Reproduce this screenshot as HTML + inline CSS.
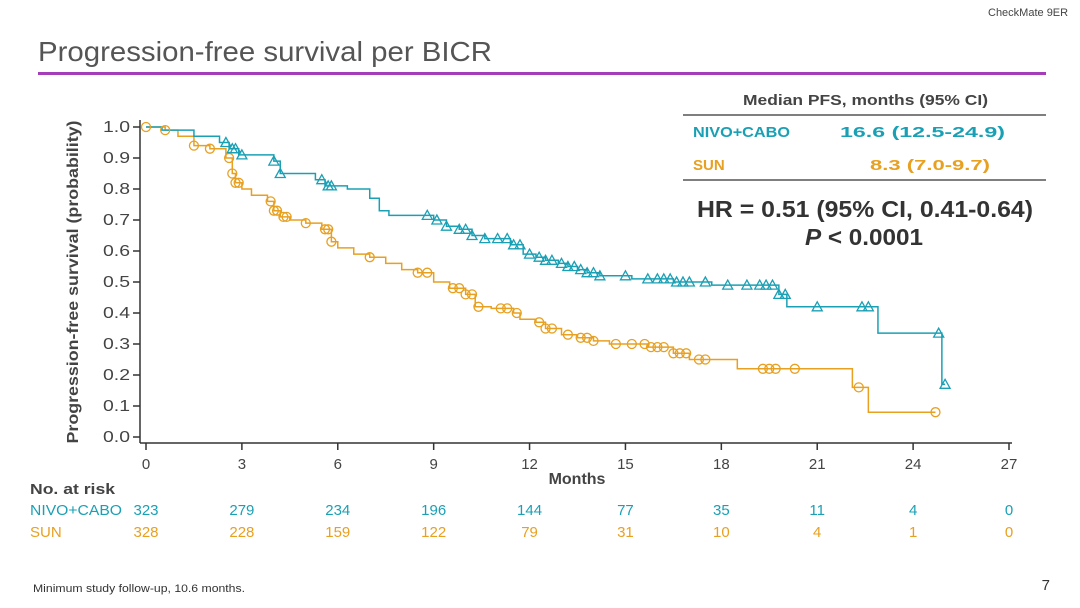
<!DOCTYPE html>
<html><head><meta charset="utf-8">
<style>
body{margin:0;width:1080px;height:608px;background:#fff;overflow:hidden;font-family:"Liberation Sans",sans-serif;}
svg{display:block}
</style></head>
<body>
<svg id="c" width="1080" height="608">
<text x="988" y="16" font-size="11" fill="#444">CheckMate 9ER</text>
<text x="38" y="61" font-size="28" fill="#555" textLength="454" lengthAdjust="spacingAndGlyphs">Progression-free survival per BICR</text>
<rect x="38" y="72" width="1008" height="3" fill="#a63db8"/>
<g>
<text x="743" y="105" font-size="15" font-weight="bold" fill="#444" textLength="245" lengthAdjust="spacingAndGlyphs">Median PFS, months (95% CI)</text>
<line x1="683" y1="115" x2="1046" y2="115" stroke="#555" stroke-width="1.5"/>
<text x="693" y="137" font-size="15" font-weight="bold" fill="#1aa0b5" textLength="97" lengthAdjust="spacingAndGlyphs">NIVO+CABO</text>
<text x="840" y="137" font-size="15" font-weight="bold" fill="#1aa0b5" textLength="165" lengthAdjust="spacingAndGlyphs">16.6 (12.5-24.9)</text>
<text x="693" y="170" font-size="15" font-weight="bold" fill="#e8a021">SUN</text>
<text x="870" y="170" font-size="15" font-weight="bold" fill="#e8a021" textLength="120" lengthAdjust="spacingAndGlyphs">8.3 (7.0-9.7)</text>
<line x1="683" y1="180" x2="1046" y2="180" stroke="#555" stroke-width="1.5"/>
</g>
<text x="697" y="217" font-size="23" font-weight="bold" fill="#333" textLength="336" lengthAdjust="spacingAndGlyphs">HR = 0.51 (95% CI, 0.41-0.64)</text>
<text x="805" y="245" font-size="23" font-weight="bold" fill="#333" textLength="118" lengthAdjust="spacingAndGlyphs"><tspan font-style="italic">P</tspan> &lt; 0.0001</text>
<text transform="translate(78,282) rotate(-90)" font-size="16" font-weight="bold" fill="#444" text-anchor="middle" textLength="323" lengthAdjust="spacingAndGlyphs">Progression-free survival (probability)</text>
<text x="577" y="484" font-size="16" font-weight="bold" fill="#444" text-anchor="middle">Months</text>
<text x="30" y="494" font-size="15" font-weight="bold" fill="#444" textLength="85" lengthAdjust="spacingAndGlyphs">No. at risk</text>
<text x="30" y="515" font-size="15" fill="#1aa0b5" textLength="92" lengthAdjust="spacingAndGlyphs">NIVO+CABO</text>
<text x="30" y="537" font-size="15" fill="#e8a021">SUN</text>
<text x="33" y="592" font-size="11" fill="#333" textLength="212" lengthAdjust="spacingAndGlyphs">Minimum study follow-up, 10.6 months.</text>
<text x="1050" y="590" font-size="15" fill="#333" text-anchor="end">7</text>
<g id="plot"></g>
</svg>
<script>
const xTicks=[0,3,6,9,12,15,18,21,24,27];
const yTicks=[0,0.1,0.2,0.3,0.4,0.5,0.6,0.7,0.8,0.9,1.0];
const riskNivo=[323,279,234,196,144,77,35,11,4,0];
const riskSun=[328,228,159,122,79,31,10,4,1,0];
const nivoT=[0,0.5,1.5,2.3,2.6,2.9,4.0,4.2,5.3,5.6,6.3,7.0,7.3,7.6,9.0,9.4,9.8,10.2,10.6,11.4,11.8,12.2,12.5,12.9,13.2,13.5,13.8,14.2,15.2,16.5,17.7,19.8,20.05,22.9,24.9];
const nivoS=[1.0,0.99,0.97,0.95,0.93,0.91,0.89,0.85,0.83,0.81,0.80,0.77,0.73,0.715,0.70,0.68,0.67,0.65,0.64,0.62,0.59,0.58,0.57,0.56,0.55,0.54,0.53,0.52,0.51,0.50,0.49,0.46,0.42,0.335,0.17];
const nivoEnd=25.0;
const nivoCens=[2.5,2.7,2.8,3.0,4.0,4.2,5.5,5.7,5.8,8.8,9.1,9.4,9.8,10.0,10.2,10.6,11.0,11.3,11.5,11.7,12.0,12.3,12.5,12.7,13.0,13.2,13.4,13.6,13.8,14.0,14.2,15.0,15.7,16.0,16.2,16.4,16.6,16.8,17.0,17.5,18.2,18.8,19.2,19.4,19.6,19.8,20.0,21.0,22.4,22.6,24.8,25.0];
const sunT=[0,0.6,1.0,1.5,2.0,2.5,2.7,2.8,3.0,3.3,3.8,4.0,4.2,4.5,5.0,5.5,5.8,6.0,6.5,7.0,7.5,8.0,8.5,9.0,9.5,10.0,10.3,10.8,11.5,11.7,12.2,12.5,13.0,13.5,14.0,14.5,15.7,16.5,17.0,18.5,22.1,22.6];
const sunS=[1.0,0.99,0.97,0.94,0.93,0.90,0.85,0.82,0.80,0.78,0.76,0.73,0.71,0.70,0.69,0.67,0.63,0.61,0.59,0.58,0.56,0.54,0.53,0.50,0.48,0.46,0.42,0.415,0.40,0.38,0.37,0.35,0.33,0.32,0.31,0.30,0.29,0.27,0.25,0.22,0.16,0.08];
const sunEnd=24.7;
const sunCens=[0,0.6,1.5,2.0,2.6,2.7,2.8,2.9,3.9,4.0,4.1,4.3,4.4,5.0,5.6,5.7,5.8,7.0,8.5,8.8,9.6,9.8,10.0,10.2,10.4,11.1,11.3,11.6,12.3,12.5,12.7,13.2,13.6,13.8,14.0,14.7,15.2,15.6,15.8,16.0,16.2,16.5,16.7,16.9,17.3,17.5,19.3,19.5,19.7,20.3,22.3,24.7];
const X=t=>146+t*(1009-146)/27;
const Y=s=>437-s*310;
const NS='http://www.w3.org/2000/svg';
const g=document.getElementById('plot');
function mk(tag,a){const e=document.createElementNS(NS,tag);for(const k in a)e.setAttribute(k,a[k]);g.appendChild(e);return e;}
let e=mk('line',{x1:140,y1:120,x2:140,y2:443,stroke:'#333','stroke-width':1.5});


e=mk('line',{x1:140,y1:443,x2:1012,y2:443,stroke:'#333','stroke-width':1.5});


yTicks.forEach(v=>{
 mk('line',{x1:133,y1:Y(v),x2:140,y2:Y(v),stroke:'#333','stroke-width':1.5});
 const t=mk('text',{x:130,y:Y(v)+5,'font-size':16,fill:'#444','text-anchor':'end',textLength:27,lengthAdjust:'spacingAndGlyphs'});t.textContent=v.toFixed(1);
 
 
});
xTicks.forEach((v,i)=>{
 mk('line',{x1:X(v),y1:443,x2:X(v),y2:450,stroke:'#333','stroke-width':1.5});
 const t=mk('text',{x:X(v),y:469,'font-size':15,fill:'#444','text-anchor':'middle'});t.textContent=v;
 
 
 const a=mk('text',{x:X(v),y:515,'font-size':15,fill:'#1aa0b5','text-anchor':'middle'});a.textContent=riskNivo[i];
 
 
 const b=mk('text',{x:X(v),y:537,'font-size':15,fill:'#e8a021','text-anchor':'middle'});b.textContent=riskSun[i];
 
 
});
function sAt(T,S,t){let s=S[0];for(let i=0;i<T.length;i++){if(T[i]<=t)s=S[i];}return s;}
function curve(T,S,end,col,name){
 let d='M'+X(T[0])+','+Y(S[0]);
 for(let i=1;i<T.length;i++){d+='H'+X(T[i])+'V'+Y(S[i]);}
 d+='H'+X(end);
 const p=mk('path',{d:d,fill:'none',stroke:col,'stroke-width':1.5});
 
 
}
curve(sunT,sunS,sunEnd,'#e8a021','sun-curve');
curve(nivoT,nivoS,nivoEnd,'#1aa0b5','nivo-cabo-curve');
sunCens.forEach(t=>{
 const c=mk('circle',{cx:X(t),cy:Y(sAt(sunT,sunS,t)),r:4.5,fill:'none',stroke:'#e8a021','stroke-width':1.3});
 
 
});
nivoCens.forEach(t=>{
 const x=X(t),y=Y(sAt(nivoT,nivoS,t));
 const p=mk('path',{d:`M${x},${y-5}L${x+5},${y+4}L${x-5},${y+4}Z`,fill:'none',stroke:'#1aa0b5','stroke-width':1.3});
 
 
});
</script>
</body></html>
